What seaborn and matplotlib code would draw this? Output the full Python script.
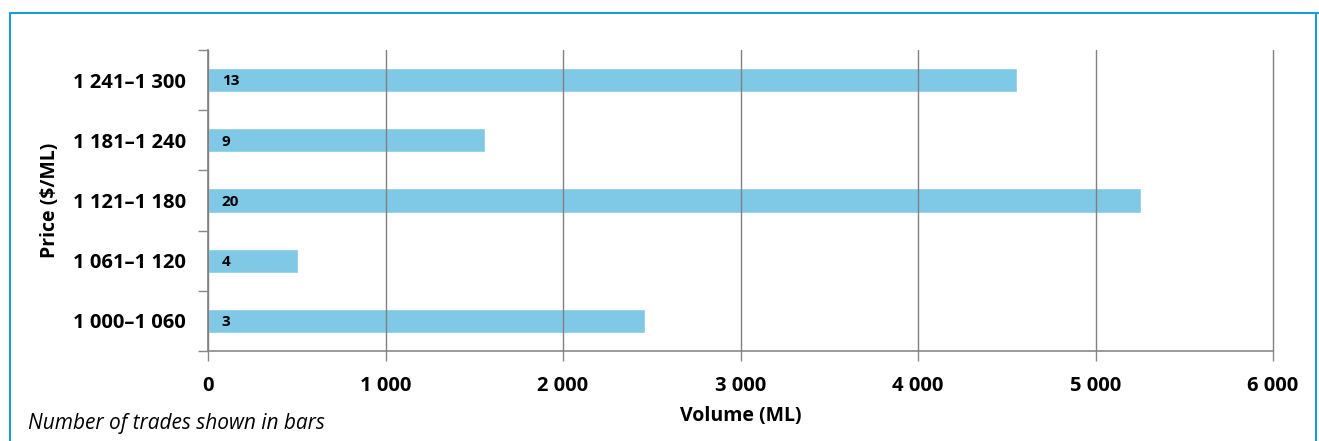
import matplotlib
matplotlib.use('Agg')
import matplotlib.pyplot as plt
import numpy as np
import pandas as pd
import seaborn as sns

price_bands = ['1 241–1 300', '1 181–1 240', '1 121–1 180', '1 061–1 120', '1 000–1 060']
volume_ml = [4555, 1560, 5255, 508, 2460]
num_trades = [13, 9, 20, 4, 3]
x_ticks = [0, 1000, 2000, 3000, 4000, 5000, 6000]
x_tick_labels = ['0', '1 000', '2 000', '3 000', '4 000', '5 000', '6 000']

df = pd.DataFrame({'price': price_bands, 'volume': volume_ml, 'trades': num_trades})

sns.set_theme(style='white', rc={'text.color': 'black', 'axes.labelcolor': 'black',
                                 'xtick.color': 'black', 'ytick.color': 'black'})
plt.rcParams['font.family'] = ['Open Sans', 'DejaVu Sans']

fig = plt.figure(figsize=(13.19, 4.41), dpi=100)
ax = fig.add_axes([208 / 1319, 1 - 351 / 441, 1065 / 1319, 301 / 441])

sns.barplot(data=df, x='volume', y='price', color='#7fc9e6', saturation=1,
            width=0.4, ax=ax, orient='h')

for i, n in enumerate(df['trades']):
    ax.annotate(str(n), xy=(0, i), xytext=(10, -1), textcoords='offset points',
                va='center', ha='left', fontsize=11, fontweight='bold', color='black')

ax.set_xlim(0, 6000)
ax.set_ylim(4.5, -0.5)
ax.set_xticks(x_ticks)
ax.set_xticklabels(x_tick_labels, fontsize=14.5, fontweight='bold')
ax.set_yticks(np.arange(len(price_bands)))
ax.set_yticklabels(price_bands, fontsize=14.5, fontweight='bold')
ax.set_yticks(np.arange(-0.5, len(price_bands), 1), minor=True)
ax.tick_params(axis='y', which='major', length=0, pad=16)
ax.tick_params(axis='y', which='minor', length=7, width=1, color='#888888', left=True)
ax.tick_params(axis='x', which='major', length=7, width=1, color='#888888', bottom=True, pad=11)

ax.grid(axis='x', color='#808080', linewidth=1)
for gl in ax.get_xgridlines():
    gl.set_clip_on(False)
ax.set_axisbelow(False)
for b in ax.patches:
    b.set_zorder(1)
for spine in ['top', 'right']:
    ax.spines[spine].set_visible(False)
for spine in ['left', 'bottom']:
    ax.spines[spine].set_color('#888888')
    ax.spines[spine].set_linewidth(1.2)

ax.set_xlabel('Volume (ML)', fontsize=14, fontweight='bold', labelpad=7)
ax.set_ylabel('Price ($/ML)', fontsize=14, fontweight='bold', labelpad=9)

fig.text(28 / 1319, 1 - 424 / 441, 'Number of trades shown in bars', fontsize=15,
         fontstyle='italic', va='center', ha='left', color='black')

border = '#1a9ad6'
fig.add_artist(plt.Line2D([10 / 1319, 1], [1 - 13 / 441, 1 - 13 / 441], color=border, lw=1.5))
fig.add_artist(plt.Line2D([10 / 1319, 10 / 1319], [0, 1 - 13 / 441], color=border, lw=1.5))
fig.add_artist(plt.Line2D([1316 / 1319, 1316 / 1319], [0, 1 - 13 / 441], color=border, lw=1.5))

fig.savefig('out.png', dpi=100)
